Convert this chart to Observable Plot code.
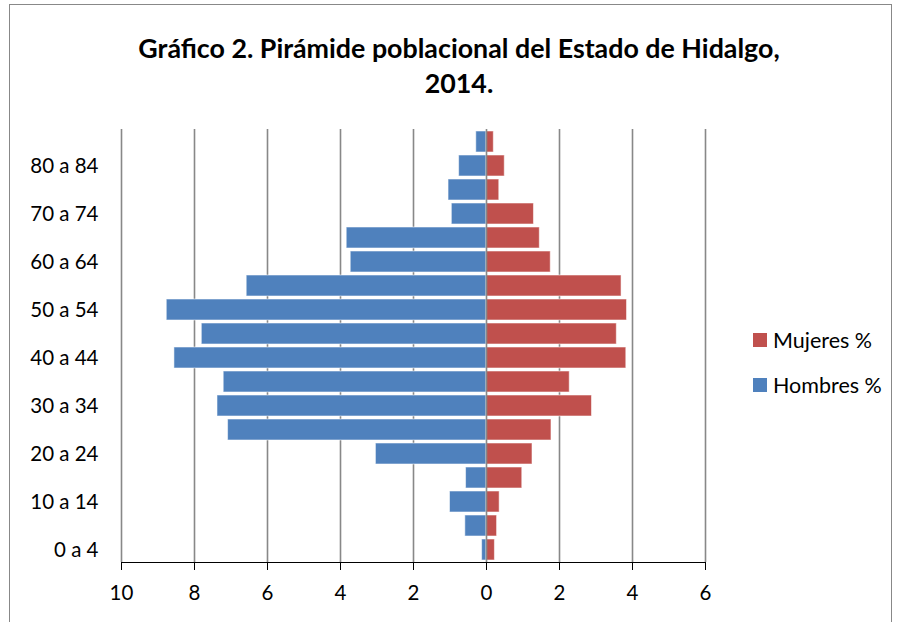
<!DOCTYPE html>
<html>
<head>
<meta charset="utf-8">
<script src="https://cdn.jsdelivr.net/npm/d3@7"></script>
<script src="https://cdn.jsdelivr.net/npm/@observablehq/plot@0.6"></script>
<style>
  html, body { margin: 0; padding: 0; background: #fff; }
  #wrap { position: relative; width: 899px; height: 622px; overflow: hidden; font-family: Lato, "Open Sans", sans-serif; }
  #border { position: absolute; left: 9px; top: 4px; width: 883px; height: 700px; border: 1.5px solid #888; box-sizing: border-box; }
  #title { position: absolute; left: 0; width: 918px; top: 31px; text-align: center; font-weight: bold; font-size: 26.8px; line-height: 35px; color: #000; }
  #legend { position: absolute; left: 753px; top: 327px; font-size: 21.5px; color: #000; }
  .item { display: flex; align-items: center; height: 26px; margin-bottom: 19px; }
  .sw { width: 14px; height: 14px; margin-right: 6px; }
  #chart { position: absolute; left: 0; top: 0; }
</style>
</head>
<body>
<div id="wrap">
  <div id="border"></div>
  <div id="title">Gráfico 2. Pirámide poblacional del Estado de Hidalgo,<br>2014.</div>
  <div id="chart"></div>
  <div id="legend"></div>
</div>
<script>
const ageGroups = ["0 a 4","5 a 9","10 a 14","15 a 19","20 a 24","25 a 29","30 a 34","35 a 39","40 a 44","45 a 49","50 a 54","55 a 59","60 a 64","65 a 69","70 a 74","75 a 79","80 a 84","85 y más"];
const hombres = [0.12, 0.58, 1.00, 0.56, 3.03, 7.08, 7.37, 7.20, 8.55, 7.80, 8.76, 6.57, 3.72, 3.83, 0.95, 1.04, 0.75, 0.28];
const mujeres = [0.23, 0.29, 0.36, 0.98, 1.26, 1.78, 2.89, 2.28, 3.83, 3.57, 3.85, 3.70, 1.76, 1.46, 1.30, 0.35, 0.50, 0.20];
const xTicks = [-10, -8, -6, -4, -2, 0, 2, 4, 6];
const yTickLabels = ["0 a 4","10 a 14","20 a 24","30 a 34","40 a 44","50 a 54","60 a 64","70 a 74","80 a 84"];
const seriesNames = ["Mujeres %", "Hombres %"];
const seriesColors = ["#C0504D", "#4F81BD"];

const menData = ageGroups.map((g, i) => ({group: g, value: -hombres[i]}));
const womenData = ageGroups.map((g, i) => ({group: g, value: mujeres[i]}));

const chart = Plot.plot({
  width: 899,
  height: 622,
  marginTop: 129,
  marginBottom: 60,
  marginLeft: 121,
  marginRight: 194,
  style: {fontFamily: "Lato, 'Open Sans', sans-serif", fontSize: "20.5px", color: "#000", background: "transparent"},
  x: {domain: [-10, 6], ticks: xTicks, tickFormat: d => Math.abs(d), tickSize: 8, tickPadding: 15, label: null, line: true},
  y: {domain: ageGroups.slice().reverse(), ticks: yTickLabels, tickSize: 0, tickPadding: 23, label: null, paddingInner: 0.12, paddingOuter: 0.06},
  marks: [
    Plot.ruleX(xTicks.filter(d => d !== 0), {stroke: "#888", strokeWidth: 1.6}),
    Plot.barX(menData, {y: "group", x1: 0, x2: "value", fill: seriesColors[1], stroke: "#ffffff", strokeOpacity: 0.55, strokeWidth: 1}),
    Plot.barX(womenData, {y: "group", x1: 0, x2: "value", fill: seriesColors[0], stroke: "#ffffff", strokeOpacity: 0.55, strokeWidth: 1}),
    Plot.ruleX([0], {stroke: "#888", strokeWidth: 1.6})
  ]
});
document.getElementById("chart").appendChild(chart);

const legend = document.getElementById("legend");
seriesNames.forEach((n, i) => {
  const it = document.createElement("div");
  it.className = "item";
  it.innerHTML = `<div class="sw" style="background:${seriesColors[i]}"></div><span>${n}</span>`;
  legend.appendChild(it);
});
</script>
</body>
</html>
